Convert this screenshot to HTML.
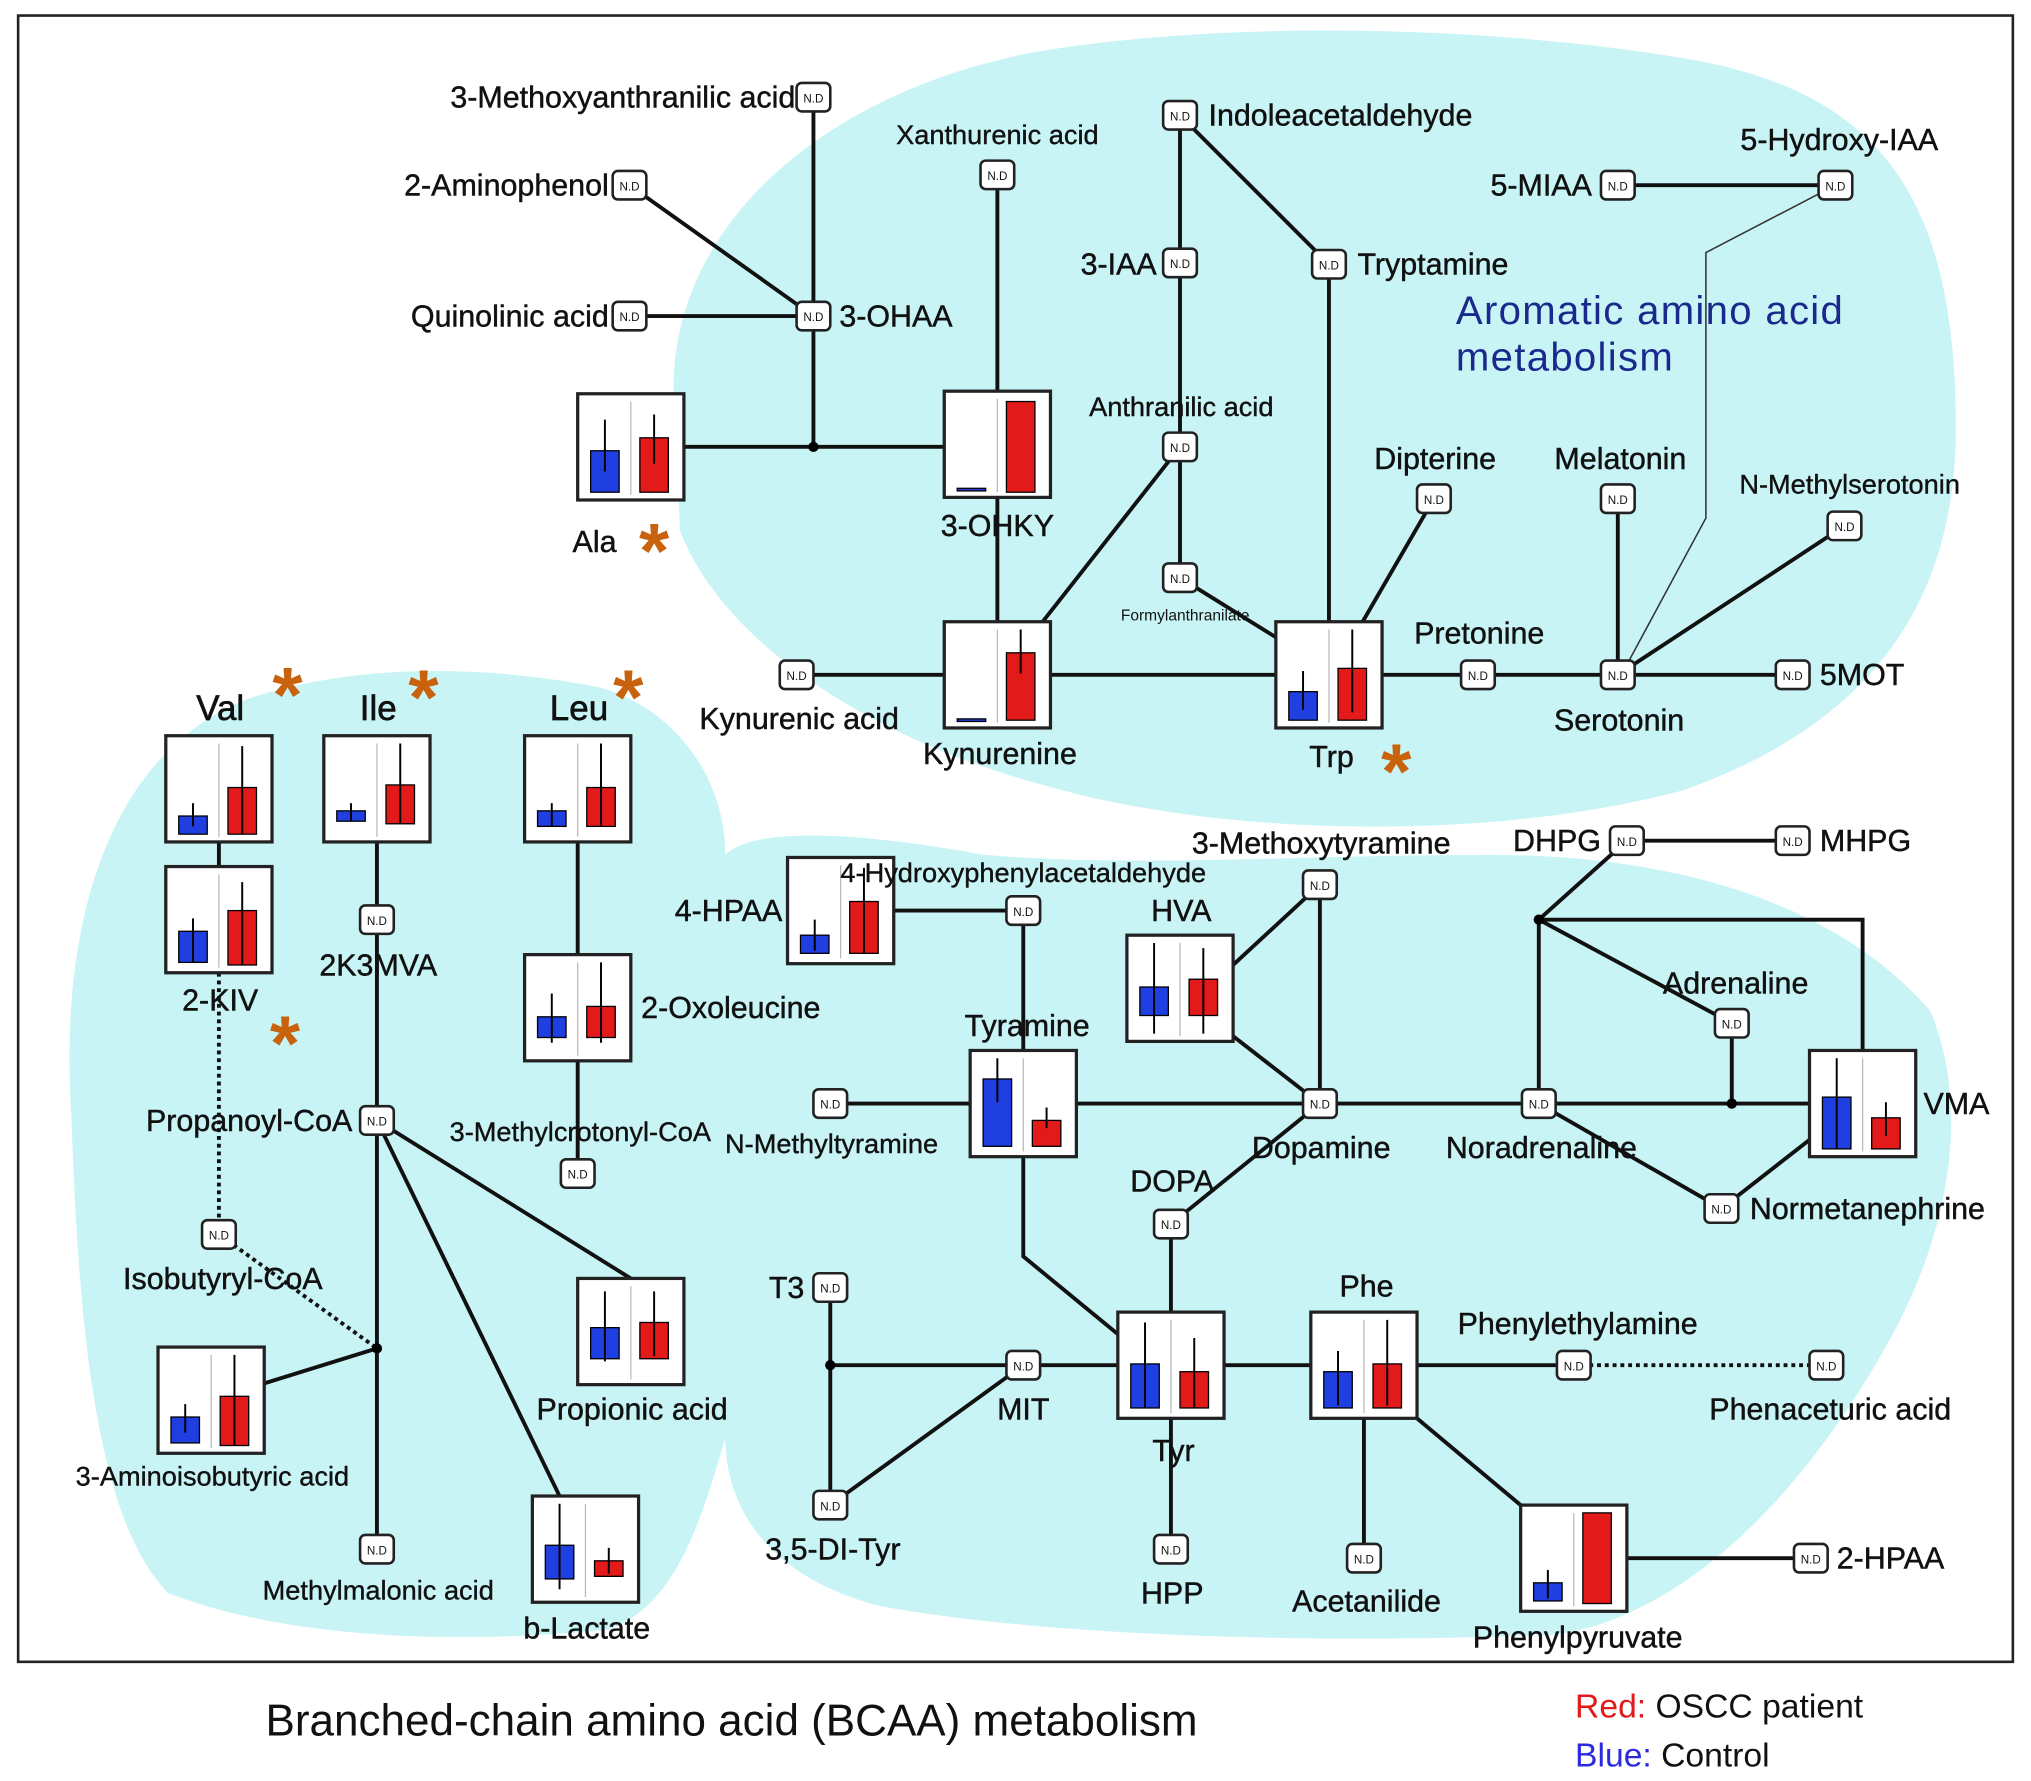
<!DOCTYPE html>
<html><head><meta charset="utf-8"><style>
html,body{margin:0;padding:0;background:#fff;}
svg{display:block;}
text{font-family:"Liberation Sans",Arial,sans-serif;fill:#111;}
.l text{font-size:23.5px;stroke:#111;stroke-width:0.35px;}
.s text{font-size:21px;stroke:#111;stroke-width:0.3px;}
.t{font-size:12px;}
.nd rect{fill:#fff;stroke:#222;stroke-width:2;}
.nd text{font-size:9px;text-anchor:middle;}
.e{stroke:#111;stroke-width:3;fill:none;}
.ast text{font-size:60px;fill:#c8620c;font-weight:bold;}
</style></head><body>
<svg width="2031" height="1781" viewBox="0 0 1568 1375" preserveAspectRatio="none" xmlns="http://www.w3.org/2000/svg">
<rect x="0" y="0" width="1568" height="1375" fill="#fff"/>
<path fill="#c9f4f6" d="M520,300 C520,170 640,70 800,40 C950,15 1150,20 1300,45 C1450,70 1510,150 1510,330 C1510,470 1440,560 1300,610 C1150,650 950,645 820,610 C680,575 560,500 525,410 Z"/>
<path fill="#c9f4f6" d="M55,860 C45,700 90,580 190,540 C280,510 380,515 460,530 C520,545 560,600 560,660 C580,640 650,640 760,660 C880,670 1000,660 1150,660 C1300,660 1420,700 1490,780 C1520,850 1510,950 1450,1050 C1380,1170 1290,1250 1200,1262 C1000,1270 800,1262 680,1240 C600,1220 560,1170 560,1110 C540,1180 520,1240 470,1258 C350,1270 220,1265 130,1230 C70,1170 60,1000 55,860 Z"/>
<rect x="14" y="12" width="1540" height="1271" fill="none" stroke="#222" stroke-width="2"/>

<g class="e">
<path d="M628,75V345M486,143L628,244M486,244H628M528,345H729M770,135V302M770,384V480M615,521H729M811,521H985M805,480L911,345"/>
<path d="M911,89V446M911,89L1026,204V480M911,446L985,492M1052,480L1107,385M1067,521H1384M1249,385V521M1249,521L1424,406M1249,143H1417"/>
<path d="M690,703H790V811M641,852H749M831,852H1397M952,745L1019,683V852M952,800L1019,852L904,945V1013M790,893V970L863,1030"/>
<path d="M1256,649H1384M1256,649L1188,710V852M1188,710H1438V811M1188,710L1337,790V852M1188,852L1329,933L1397,880"/>
<path d="M641,994V1162M641,1054H863M641,1162L790,1054M945,1054H1012M904,1095V1196M1094,1054H1215M1053,1095V1203M1094,1095L1174,1162M1256,1203H1398"/>
<path d="M169,650V669M291,650V1196M446,650V737M446,819V906M291,865L487,987M291,865L432,1155M204,1068L291,1041"/>
</g>
<path d="M1417,143L1317,195V400L1255,515" stroke="#333" stroke-width="1.2" fill="none"/>
<path d="M169,751V953L291,1041M1215,1054H1410" stroke="#111" stroke-width="3" stroke-dasharray="3,3" fill="none"/>
<circle cx="628" cy="345" r="4"/><circle cx="1188" cy="710" r="4"/><circle cx="1337" cy="852" r="4"/><circle cx="641" cy="1054" r="4"/><circle cx="291" cy="1041" r="4"/>

<g class="nd">
<g transform="translate(615,64)"><rect width="26" height="22" rx="4"/><text x="13" y="15">N.D</text></g>
<g transform="translate(473,132)"><rect width="26" height="22" rx="4"/><text x="13" y="15">N.D</text></g>
<g transform="translate(473,233)"><rect width="26" height="22" rx="4"/><text x="13" y="15">N.D</text></g>
<g transform="translate(615,233)"><rect width="26" height="22" rx="4"/><text x="13" y="15">N.D</text></g>
<g transform="translate(757,124)"><rect width="26" height="22" rx="4"/><text x="13" y="15">N.D</text></g>
<g transform="translate(898,78)"><rect width="26" height="22" rx="4"/><text x="13" y="15">N.D</text></g>
<g transform="translate(898,192)"><rect width="26" height="22" rx="4"/><text x="13" y="15">N.D</text></g>
<g transform="translate(1013,193)"><rect width="26" height="22" rx="4"/><text x="13" y="15">N.D</text></g>
<g transform="translate(1236,132)"><rect width="26" height="22" rx="4"/><text x="13" y="15">N.D</text></g>
<g transform="translate(1404,132)"><rect width="26" height="22" rx="4"/><text x="13" y="15">N.D</text></g>
<g transform="translate(898,334)"><rect width="26" height="22" rx="4"/><text x="13" y="15">N.D</text></g>
<g transform="translate(898,435)"><rect width="26" height="22" rx="4"/><text x="13" y="15">N.D</text></g>
<g transform="translate(1094,374)"><rect width="26" height="22" rx="4"/><text x="13" y="15">N.D</text></g>
<g transform="translate(1236,374)"><rect width="26" height="22" rx="4"/><text x="13" y="15">N.D</text></g>
<g transform="translate(1411,395)"><rect width="26" height="22" rx="4"/><text x="13" y="15">N.D</text></g>
<g transform="translate(602,510)"><rect width="26" height="22" rx="4"/><text x="13" y="15">N.D</text></g>
<g transform="translate(1128,510)"><rect width="26" height="22" rx="4"/><text x="13" y="15">N.D</text></g>
<g transform="translate(1236,510)"><rect width="26" height="22" rx="4"/><text x="13" y="15">N.D</text></g>
<g transform="translate(1371,510)"><rect width="26" height="22" rx="4"/><text x="13" y="15">N.D</text></g>
<g transform="translate(1243,638)"><rect width="26" height="22" rx="4"/><text x="13" y="15">N.D</text></g>
<g transform="translate(1371,638)"><rect width="26" height="22" rx="4"/><text x="13" y="15">N.D</text></g>
<g transform="translate(777,692)"><rect width="26" height="22" rx="4"/><text x="13" y="15">N.D</text></g>
<g transform="translate(1006,672)"><rect width="26" height="22" rx="4"/><text x="13" y="15">N.D</text></g>
<g transform="translate(1324,779)"><rect width="26" height="22" rx="4"/><text x="13" y="15">N.D</text></g>
<g transform="translate(628,841)"><rect width="26" height="22" rx="4"/><text x="13" y="15">N.D</text></g>
<g transform="translate(1006,841)"><rect width="26" height="22" rx="4"/><text x="13" y="15">N.D</text></g>
<g transform="translate(1175,841)"><rect width="26" height="22" rx="4"/><text x="13" y="15">N.D</text></g>
<g transform="translate(1316,922)"><rect width="26" height="22" rx="4"/><text x="13" y="15">N.D</text></g>
<g transform="translate(891,934)"><rect width="26" height="22" rx="4"/><text x="13" y="15">N.D</text></g>
<g transform="translate(628,983)"><rect width="26" height="22" rx="4"/><text x="13" y="15">N.D</text></g>
<g transform="translate(777,1043)"><rect width="26" height="22" rx="4"/><text x="13" y="15">N.D</text></g>
<g transform="translate(1202,1043)"><rect width="26" height="22" rx="4"/><text x="13" y="15">N.D</text></g>
<g transform="translate(1397,1043)"><rect width="26" height="22" rx="4"/><text x="13" y="15">N.D</text></g>
<g transform="translate(628,1151)"><rect width="26" height="22" rx="4"/><text x="13" y="15">N.D</text></g>
<g transform="translate(891,1185)"><rect width="26" height="22" rx="4"/><text x="13" y="15">N.D</text></g>
<g transform="translate(1040,1192)"><rect width="26" height="22" rx="4"/><text x="13" y="15">N.D</text></g>
<g transform="translate(1385,1192)"><rect width="26" height="22" rx="4"/><text x="13" y="15">N.D</text></g>
<g transform="translate(278,699)"><rect width="26" height="22" rx="4"/><text x="13" y="15">N.D</text></g>
<g transform="translate(278,854)"><rect width="26" height="22" rx="4"/><text x="13" y="15">N.D</text></g>
<g transform="translate(433,895)"><rect width="26" height="22" rx="4"/><text x="13" y="15">N.D</text></g>
<g transform="translate(156,942)"><rect width="26" height="22" rx="4"/><text x="13" y="15">N.D</text></g>
<g transform="translate(278,1185)"><rect width="26" height="22" rx="4"/><text x="13" y="15">N.D</text></g>
</g>

<g>
<g transform="translate(446,304)"><rect width="82" height="82" fill="#fff" stroke="#222" stroke-width="2.5"/><line x1="41" y1="6" x2="41" y2="78" stroke="#bbb"/><rect x="10" y="44" width="22" height="32" fill="#1f3fe0" stroke="#000"/><rect x="48" y="34" width="22" height="42" fill="#e31a1a" stroke="#000"/><path d="M21,20V60M59,16V54" stroke="#000" stroke-width="1.5"/></g>
<g transform="translate(729,302)"><rect width="82" height="82" fill="#fff" stroke="#222" stroke-width="2.5"/><line x1="41" y1="6" x2="41" y2="78" stroke="#bbb"/><rect x="10" y="75" width="22" height="2" fill="#1f3fe0" stroke="#000"/><rect x="48" y="8" width="22" height="70" fill="#e31a1a" stroke="#000"/></g>
<g transform="translate(729,480)"><rect width="82" height="82" fill="#fff" stroke="#222" stroke-width="2.5"/><line x1="41" y1="6" x2="41" y2="78" stroke="#bbb"/><rect x="10" y="75" width="22" height="2" fill="#1f3fe0" stroke="#000"/><rect x="48" y="24" width="22" height="52" fill="#e31a1a" stroke="#000"/><path d="M59,6V40" stroke="#000" stroke-width="1.5"/></g>
<g transform="translate(985,480)"><rect width="82" height="82" fill="#fff" stroke="#222" stroke-width="2.5"/><line x1="41" y1="6" x2="41" y2="78" stroke="#bbb"/><rect x="10" y="54" width="22" height="22" fill="#1f3fe0" stroke="#000"/><rect x="48" y="36" width="22" height="40" fill="#e31a1a" stroke="#000"/><path d="M21,38V68M59,6V70" stroke="#000" stroke-width="1.5"/></g>
<g transform="translate(128,568)"><rect width="82" height="82" fill="#fff" stroke="#222" stroke-width="2.5"/><line x1="41" y1="6" x2="41" y2="78" stroke="#bbb"/><rect x="10" y="62" width="22" height="14" fill="#1f3fe0" stroke="#000"/><rect x="48" y="40" width="22" height="36" fill="#e31a1a" stroke="#000"/><path d="M21,52V70M59,8V76" stroke="#000" stroke-width="1.5"/></g>
<g transform="translate(250,568)"><rect width="82" height="82" fill="#fff" stroke="#222" stroke-width="2.5"/><line x1="41" y1="6" x2="41" y2="78" stroke="#bbb"/><rect x="10" y="58" width="22" height="8" fill="#1f3fe0" stroke="#000"/><rect x="48" y="38" width="22" height="30" fill="#e31a1a" stroke="#000"/><path d="M21,52V66M59,6V68" stroke="#000" stroke-width="1.5"/></g>
<g transform="translate(405,568)"><rect width="82" height="82" fill="#fff" stroke="#222" stroke-width="2.5"/><line x1="41" y1="6" x2="41" y2="78" stroke="#bbb"/><rect x="10" y="58" width="22" height="12" fill="#1f3fe0" stroke="#000"/><rect x="48" y="40" width="22" height="30" fill="#e31a1a" stroke="#000"/><path d="M21,52V70M59,6V70" stroke="#000" stroke-width="1.5"/></g>
<g transform="translate(128,669)"><rect width="82" height="82" fill="#fff" stroke="#222" stroke-width="2.5"/><line x1="41" y1="6" x2="41" y2="78" stroke="#bbb"/><rect x="10" y="50" width="22" height="24" fill="#1f3fe0" stroke="#000"/><rect x="48" y="34" width="22" height="42" fill="#e31a1a" stroke="#000"/><path d="M21,40V74M59,12V76" stroke="#000" stroke-width="1.5"/></g>
<g transform="translate(405,737)"><rect width="82" height="82" fill="#fff" stroke="#222" stroke-width="2.5"/><line x1="41" y1="6" x2="41" y2="78" stroke="#bbb"/><rect x="10" y="48" width="22" height="16" fill="#1f3fe0" stroke="#000"/><rect x="48" y="40" width="22" height="24" fill="#e31a1a" stroke="#000"/><path d="M21,30V68M59,6V68" stroke="#000" stroke-width="1.5"/></g>
<g transform="translate(608,662)"><rect width="82" height="82" fill="#fff" stroke="#222" stroke-width="2.5"/><line x1="41" y1="6" x2="41" y2="78" stroke="#bbb"/><rect x="10" y="60" width="22" height="14" fill="#1f3fe0" stroke="#000"/><rect x="48" y="34" width="22" height="40" fill="#e31a1a" stroke="#000"/><path d="M21,48V72M59,8V74" stroke="#000" stroke-width="1.5"/></g>
<g transform="translate(870,722)"><rect width="82" height="82" fill="#fff" stroke="#222" stroke-width="2.5"/><line x1="41" y1="6" x2="41" y2="78" stroke="#bbb"/><rect x="10" y="40" width="22" height="22" fill="#1f3fe0" stroke="#000"/><rect x="48" y="34" width="22" height="28" fill="#e31a1a" stroke="#000"/><path d="M21,6V76M59,10V76" stroke="#000" stroke-width="1.5"/></g>
<g transform="translate(749,811)"><rect width="82" height="82" fill="#fff" stroke="#222" stroke-width="2.5"/><line x1="41" y1="6" x2="41" y2="78" stroke="#bbb"/><rect x="10" y="22" width="22" height="52" fill="#1f3fe0" stroke="#000"/><rect x="48" y="54" width="22" height="20" fill="#e31a1a" stroke="#000"/><path d="M21,6V40M59,44V60" stroke="#000" stroke-width="1.5"/></g>
<g transform="translate(1397,811)"><rect width="82" height="82" fill="#fff" stroke="#222" stroke-width="2.5"/><line x1="41" y1="6" x2="41" y2="78" stroke="#bbb"/><rect x="10" y="36" width="22" height="40" fill="#1f3fe0" stroke="#000"/><rect x="48" y="52" width="22" height="24" fill="#e31a1a" stroke="#000"/><path d="M21,6V76M59,40V66" stroke="#000" stroke-width="1.5"/></g>
<g transform="translate(446,987)"><rect width="82" height="82" fill="#fff" stroke="#222" stroke-width="2.5"/><line x1="41" y1="6" x2="41" y2="78" stroke="#bbb"/><rect x="10" y="38" width="22" height="24" fill="#1f3fe0" stroke="#000"/><rect x="48" y="34" width="22" height="28" fill="#e31a1a" stroke="#000"/><path d="M21,10V64M59,10V60" stroke="#000" stroke-width="1.5"/></g>
<g transform="translate(122,1040)"><rect width="82" height="82" fill="#fff" stroke="#222" stroke-width="2.5"/><line x1="41" y1="6" x2="41" y2="78" stroke="#bbb"/><rect x="10" y="54" width="22" height="20" fill="#1f3fe0" stroke="#000"/><rect x="48" y="38" width="22" height="38" fill="#e31a1a" stroke="#000"/><path d="M21,44V66M59,6V76" stroke="#000" stroke-width="1.5"/></g>
<g transform="translate(411,1155)"><rect width="82" height="82" fill="#fff" stroke="#222" stroke-width="2.5"/><line x1="41" y1="6" x2="41" y2="78" stroke="#bbb"/><rect x="10" y="38" width="22" height="26" fill="#1f3fe0" stroke="#000"/><rect x="48" y="50" width="22" height="12" fill="#e31a1a" stroke="#000"/><path d="M21,6V72M59,40V60" stroke="#000" stroke-width="1.5"/></g>
<g transform="translate(863,1013)"><rect width="82" height="82" fill="#fff" stroke="#222" stroke-width="2.5"/><line x1="41" y1="6" x2="41" y2="78" stroke="#bbb"/><rect x="10" y="40" width="22" height="34" fill="#1f3fe0" stroke="#000"/><rect x="48" y="46" width="22" height="28" fill="#e31a1a" stroke="#000"/><path d="M21,8V74M59,20V74" stroke="#000" stroke-width="1.5"/></g>
<g transform="translate(1012,1013)"><rect width="82" height="82" fill="#fff" stroke="#222" stroke-width="2.5"/><line x1="41" y1="6" x2="41" y2="78" stroke="#bbb"/><rect x="10" y="46" width="22" height="28" fill="#1f3fe0" stroke="#000"/><rect x="48" y="40" width="22" height="34" fill="#e31a1a" stroke="#000"/><path d="M21,30V72M59,6V72" stroke="#000" stroke-width="1.5"/></g>
<g transform="translate(1174,1162)"><rect width="82" height="82" fill="#fff" stroke="#222" stroke-width="2.5"/><line x1="41" y1="6" x2="41" y2="78" stroke="#bbb"/><rect x="10" y="60" width="22" height="14" fill="#1f3fe0" stroke="#000"/><rect x="48" y="6" width="22" height="70" fill="#e31a1a" stroke="#000"/><path d="M21,50V72" stroke="#000" stroke-width="1.5"/></g>
</g>

<g class="l">
<text x="614" y="83" text-anchor="end">3-Methoxyanthranilic acid</text>
<text x="470" y="151" text-anchor="end">2-Aminophenol</text>
<text x="470" y="252" text-anchor="end">Quinolinic acid</text>
<text x="648" y="252">3-OHAA</text>
<text x="933" y="97">Indoleacetaldehyde</text>
<text x="893" y="212" text-anchor="end">3-IAA</text>
<text x="1048" y="212">Tryptamine</text>
<text x="1229" y="151" text-anchor="end">5-MIAA</text>
<text x="1420" y="116" text-anchor="middle">5-Hydroxy-IAA</text>
<text x="459" y="426" text-anchor="middle">Ala</text>
<text x="770" y="414" text-anchor="middle">3-OHKY</text>
<text x="617" y="563" text-anchor="middle">Kynurenic acid</text>
<text x="772" y="590" text-anchor="middle">Kynurenine</text>
<text x="1028" y="592" text-anchor="middle">Trp</text>
<text x="1250" y="564" text-anchor="middle">Serotonin</text>
<text x="1405" y="529">5MOT</text>
<text x="1236" y="657" text-anchor="end">DHPG</text>
<text x="1405" y="657">MHPG</text>
<text x="604" y="711" text-anchor="end">4-HPAA</text>
<text x="912" y="711" text-anchor="middle">HVA</text>
<text x="793" y="800" text-anchor="middle">Tyramine</text>
<text x="1485" y="860">VMA</text>
<text x="1020" y="894" text-anchor="middle">Dopamine</text>
<text x="1190" y="894" text-anchor="middle">Noradrenaline</text>
<text x="1340" y="767" text-anchor="middle">Adrenaline</text>
<text x="1351" y="941">Normetanephrine</text>
<text x="905" y="920" text-anchor="middle">DOPA</text>
<text x="621" y="1002" text-anchor="end">T3</text>
<text x="1055" y="1001" text-anchor="middle">Phe</text>
<text x="790" y="1096" text-anchor="middle">MIT</text>
<text x="906" y="1128" text-anchor="middle">Tyr</text>
<text x="643" y="1204" text-anchor="middle">3,5-DI-Tyr</text>
<text x="905" y="1238" text-anchor="middle">HPP</text>
<text x="1055" y="1244" text-anchor="middle">Acetanilide</text>
<text x="1218" y="1272" text-anchor="middle">Phenylpyruvate</text>
<text x="1418" y="1211">2-HPAA</text>
<text x="1218" y="1030" text-anchor="middle">Phenylethylamine</text>
<text x="1413" y="1096" text-anchor="middle">Phenaceturic acid</text>
<text x="1108" y="362" text-anchor="middle">Dipterine</text>
<text x="1251" y="362" text-anchor="middle">Melatonin</text>
<text x="1142" y="497" text-anchor="middle">Pretonine</text>
<text x="1020" y="659" text-anchor="middle">3-Methoxytyramine</text>
<text x="495" y="786">2-Oxoleucine</text>
<text x="292" y="753" text-anchor="middle">2K3MVA</text>
<text x="170" y="780" text-anchor="middle">2-KIV</text>
<text x="272" y="873" text-anchor="end">Propanoyl-CoA</text>
<text x="172" y="995" text-anchor="middle">Isobutyryl-CoA</text>
<text x="488" y="1096" text-anchor="middle">Propionic acid</text>
<text x="453" y="1265" text-anchor="middle">b-Lactate</text>
</g>
<g class="s">
<text x="770" y="111" text-anchor="middle">Xanthurenic acid</text>
<text x="912" y="321" text-anchor="middle">Anthranilic acid</text>
<text x="1428" y="381" text-anchor="middle">N-Methylserotonin</text>
<text x="790" y="681" text-anchor="middle">4-Hydroxyphenylacetaldehyde</text>
<text x="642" y="890" text-anchor="middle">N-Methyltyramine</text>
<text x="448" y="881" text-anchor="middle">3-Methylcrotonyl-CoA</text>
<text x="164" y="1147" text-anchor="middle">3-Aminoisobutyric acid</text>
<text x="292" y="1235" text-anchor="middle">Methylmalonic acid</text>
</g>
<text class="t" x="915" y="479" text-anchor="middle">Formylanthranilate</text>
<g style="font-size:27px">
<text x="170" y="556" text-anchor="middle" style="stroke:#111;stroke-width:0.5px">Val</text>
<text x="292" y="556" text-anchor="middle" style="stroke:#111;stroke-width:0.5px">Ile</text>
<text x="447" y="556" text-anchor="middle" style="stroke:#111;stroke-width:0.5px">Leu</text>
</g>
<g class="ast">
<text x="505" y="446" text-anchor="middle">*</text>
<text x="1078" y="616" text-anchor="middle">*</text>
<text x="222" y="557" text-anchor="middle">*</text>
<text x="327" y="559" text-anchor="middle">*</text>
<text x="485" y="559" text-anchor="middle">*</text>
<text x="220" y="826" text-anchor="middle">*</text>
</g>
<g>
<text x="1124" y="250" style="font-size:31px;fill:#1a2a8c;letter-spacing:1px">Aromatic amino acid</text>
<text x="1124" y="286" style="font-size:31px;fill:#1a2a8c;letter-spacing:1px">metabolism</text>
</g>
<text x="205" y="1340" style="font-size:34px">Branched-chain amino acid (BCAA) metabolism</text>
<text x="1216" y="1326" style="font-size:26px"><tspan style="fill:#e31a1a">Red:</tspan> OSCC patient</text>
<text x="1216" y="1364" style="font-size:26px"><tspan style="fill:#2a2ae0">Blue:</tspan> Control</text>
</svg>
</body></html>
